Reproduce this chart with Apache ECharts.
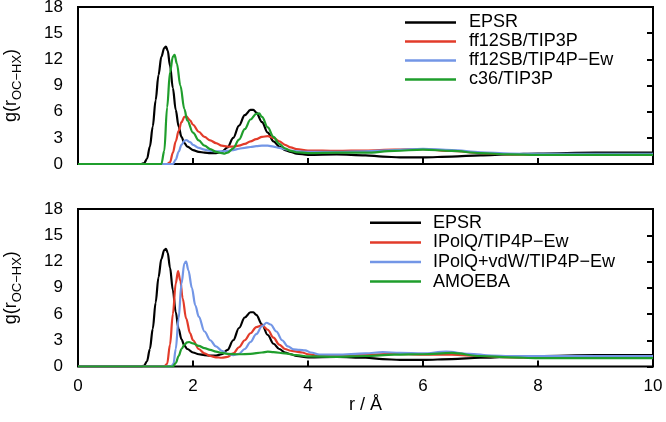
<!DOCTYPE html>
<html><head><meta charset="utf-8">
<script src="https://cdn.jsdelivr.net/npm/echarts@6/dist/echarts.min.js"></script>
<style>html,body{margin:0;padding:0;background:#fff}#c{width:666px;height:422px}</style>
</head><body><div id="c"></div>
<script>
// x ticks / y ticks
var xTicks = [0, 2, 4, 6, 8, 10];
var yTicks = [0, 3, 6, 9, 12, 15, 18];

// EPSR (both panels)
var epsrR = [0, 1.0, 1.1, 1.15, 1.2, 1.25, 1.3, 1.35, 1.4, 1.45, 1.5, 1.53, 1.56, 1.6, 1.65, 1.7, 1.75, 1.8, 1.85, 1.9, 2.0, 2.1, 2.2, 2.3, 2.4, 2.5, 2.6, 2.7, 2.8, 2.9, 3.0, 3.05, 3.1, 3.2, 3.3, 3.4, 3.5, 3.6, 3.7, 3.8, 4.0, 4.5, 5.0, 5.3, 5.6, 6.0, 6.5, 7.0, 7.5, 8.0, 9.0, 10];
var epsrG = [0, 0, 0, 0.1, 0.6, 2.0, 4.3, 7.3, 10.2, 12.3, 13.3, 13.45, 13.0, 11.3, 8.7, 6.2, 4.3, 3.1, 2.4, 2.0, 1.6, 1.4, 1.3, 1.25, 1.25, 1.4, 1.9, 3.0, 4.4, 5.6, 6.2, 6.2, 5.9, 4.8, 3.6, 2.6, 2.0, 1.6, 1.4, 1.2, 1.05, 1.1, 1.0, 0.85, 0.75, 0.75, 0.85, 1.0, 1.1, 1.2, 1.3, 1.3];

// top panel
var ffTip3pR = [0, 1.55, 1.6, 1.65, 1.7, 1.75, 1.8, 1.85, 1.88, 1.95, 2.0, 2.1, 2.2, 2.3, 2.4, 2.5, 2.6, 2.7, 2.8, 2.9, 3.0, 3.1, 3.2, 3.3, 3.4, 3.5, 3.6, 3.7, 3.8, 4.0, 4.5, 5.0, 5.5, 6.0, 6.5, 7.0, 7.5, 8.0, 10];
var ffTip3pG = [0, 0, 0.2, 1.3, 2.6, 3.8, 4.8, 5.4, 5.45, 5.0, 4.5, 3.7, 3.1, 2.7, 2.4, 2.1, 2.0, 2.0, 2.1, 2.3, 2.6, 2.85, 3.1, 3.2, 3.0, 2.6, 2.2, 1.9, 1.7, 1.55, 1.5, 1.55, 1.65, 1.7, 1.5, 1.25, 1.1, 1.05, 1.05];

var ffTip4pR = [0, 1.65, 1.7, 1.75, 1.8, 1.85, 1.88, 1.95, 2.0, 2.1, 2.2, 2.3, 2.4, 2.5, 2.6, 2.7, 2.8, 2.9, 3.0, 3.1, 3.2, 3.3, 3.4, 3.5, 3.6, 3.7, 3.8, 4.0, 4.5, 5.0, 5.5, 6.0, 6.5, 7.0, 7.5, 8.0, 10];
var ffTip4pG = [0, 0, 0.5, 1.4, 2.2, 2.65, 2.75, 2.5, 2.2, 1.85, 1.65, 1.5, 1.45, 1.45, 1.5, 1.6, 1.75, 1.85, 1.95, 2.05, 2.1, 2.1, 2.0, 1.85, 1.7, 1.55, 1.45, 1.4, 1.4, 1.45, 1.6, 1.75, 1.6, 1.35, 1.2, 1.15, 1.15];

var c36R = [0, 1.45, 1.5, 1.55, 1.6, 1.65, 1.68, 1.72, 1.78, 1.85, 1.9, 2.0, 2.1, 2.2, 2.3, 2.4, 2.5, 2.55, 2.6, 2.7, 2.8, 2.9, 3.0, 3.1, 3.15, 3.2, 3.3, 3.4, 3.5, 3.6, 3.7, 3.8, 4.0, 4.5, 5.0, 5.5, 6.0, 6.5, 7.0, 7.5, 8.0, 10];
var c36G = [0, 0, 1.5, 6.5, 10.5, 12.3, 12.5, 11.5, 9.0, 6.3, 5.0, 3.6, 2.7, 2.1, 1.7, 1.4, 1.25, 1.2, 1.3, 1.8, 2.8, 4.0, 5.1, 5.75, 5.8, 5.4, 4.2, 3.1, 2.3, 1.8, 1.5, 1.35, 1.25, 1.3, 1.3, 1.5, 1.65, 1.5, 1.25, 1.1, 1.05, 1.05];

// bottom panel
var ipolqR = [0, 1.5, 1.55, 1.6, 1.65, 1.7, 1.74, 1.78, 1.82, 1.88, 1.95, 2.0, 2.1, 2.2, 2.3, 2.4, 2.5, 2.6, 2.7, 2.8, 2.9, 3.0, 3.1, 3.2, 3.3, 3.4, 3.5, 3.6, 3.7, 3.8, 3.9, 4.0, 4.2, 4.5, 5.0, 5.5, 6.0, 6.5, 7.0, 7.5, 8.0, 10];
var ipolqG = [0, 0, 0.3, 2.5, 6.0, 9.5, 10.9, 9.8, 7.8, 5.5, 3.8, 3.0, 2.0, 1.5, 1.2, 1.05, 1.0, 1.1, 1.5, 2.2, 3.0, 3.8, 4.5, 4.7, 4.2, 3.3, 2.5, 2.0, 1.8, 1.7, 1.6, 1.4, 1.2, 1.25, 1.35, 1.45, 1.35, 1.35, 1.2, 1.05, 1.0, 1.0];

var ipolqVdwR = [0, 1.62, 1.66, 1.7, 1.75, 1.8, 1.85, 1.88, 1.92, 1.98, 2.04, 2.1, 2.2, 2.3, 2.4, 2.5, 2.6, 2.7, 2.8, 2.9, 3.0, 3.1, 3.2, 3.28, 3.35, 3.45, 3.55, 3.65, 3.75, 3.85, 3.95, 4.05, 4.2, 4.5, 5.0, 5.3, 5.6, 6.0, 6.4, 6.8, 7.2, 7.5, 8.0, 10];
var ipolqVdwG = [0, 0, 0.3, 2.0, 5.5, 9.5, 11.8, 12.0, 11.0, 9.0, 7.0, 5.7, 4.0, 3.0, 2.3, 1.8, 1.45, 1.3, 1.45, 2.0, 2.8, 3.7, 4.6, 5.0, 4.8, 4.0, 3.0, 2.3, 1.95, 1.9, 1.85, 1.6, 1.35, 1.35, 1.5, 1.65, 1.55, 1.5, 1.7, 1.45, 1.25, 1.2, 1.2, 1.2];

var amoebaR = [0, 1.65, 1.7, 1.75, 1.8, 1.85, 1.9, 1.93, 2.0, 2.1, 2.2, 2.3, 2.4, 2.5, 2.6, 2.8, 3.0, 3.2, 3.3, 3.4, 3.6, 3.8, 4.0, 4.5, 5.0, 5.5, 6.0, 6.5, 7.0, 7.5, 8.0, 10];
var amoebaG = [0, 0, 0.4, 1.2, 2.0, 2.5, 2.75, 2.8, 2.65, 2.35, 2.1, 1.9, 1.7, 1.55, 1.45, 1.4, 1.45, 1.6, 1.7, 1.65, 1.5, 1.3, 1.15, 1.1, 1.2, 1.35, 1.4, 1.55, 1.2, 1.05, 0.95, 0.95];

var namesTop = ['EPSR', 'ff12SB/TIP3P', 'ff12SB/TIP4P\u2212Ew', 'c36/TIP3P'];
var namesBot = ['EPSR', 'IPolQ/TIP4P\u2212Ew', 'IPolQ+vdW/TIP4P\u2212Ew', 'AMOEBA'];

var C_BLACK = '#000000', C_RED = '#e23b2a', C_BLUE = '#7396e6', C_GREEN = '#1f9e2c';

function pairs(r, g) { return r.map(function (v, i) { return [v, g[i]]; }); }

var FONT = '"Liberation Sans", Arial, Helvetica, sans-serif';

function xAxisDef(gi, showLabels) {
  return {
    type: 'value', gridIndex: gi, min: 0, max: 10, interval: 2, position: 'bottom',
    axisLine: { show: false },
    axisTick: { show: true, inside: true, length: 6, lineStyle: { color: '#000', width: 2 } },
    axisLabel: { show: showLabels, color: '#000', fontSize: 17, fontFamily: FONT, margin: 11 },
    splitLine: { show: false },
    name: showLabels ? 'r / \u00c5' : '', nameLocation: 'middle', nameGap: 30,
    nameTextStyle: { color: '#000', fontSize: 18, fontFamily: FONT }
  };
}
function yAxisLeft(gi) {
  return {
    type: 'value', gridIndex: gi, min: 0, max: 18, interval: 3, position: 'left',
    axisLine: { show: false }, axisTick: { show: false },
    axisLabel: { color: '#000', fontSize: 17, fontFamily: FONT, margin: 15 },
    splitLine: { show: false },
    name: '{a|g(r}{b|OC\u2212HX}{a|)}', nameLocation: 'middle', nameRotate: 90, nameGap: 54,
    nameTextStyle: {
      rich: {
        a: { fontSize: 18, fontFamily: FONT, color: '#000', lineHeight: 26 },
        b: { fontSize: 13, fontFamily: FONT, color: '#000', lineHeight: 13, verticalAlign: 'bottom' }
      }
    }
  };
}
function yAxisRight(gi) {
  return {
    type: 'value', gridIndex: gi, min: 0, max: 18, interval: 3, position: 'right',
    axisLine: { show: false },
    axisTick: { show: true, inside: true, length: 6, lineStyle: { color: '#000', width: 2 } },
    axisLabel: { show: false }, splitLine: { show: false }
  };
}
function line(name, data, color, xi, yi) {
  return {
    type: 'line', name: name, data: data, xAxisIndex: xi, yAxisIndex: yi,
    showSymbol: false, symbol: 'none', smooth: 0.35, smoothMonotone: 'x',
    lineStyle: { color: color, width: 2.2 }, itemStyle: { color: color },
    z: 3, animation: false
  };
}

var chart = echarts.init(document.getElementById('c'), null, { renderer: 'canvas' });
chart.setOption({
  animation: false,
  backgroundColor: '#fff',
  grid: [
    { left: 78, right: 13, top: 7, height: 157, containLabel: false, outerBoundsMode: 'none', show: true, borderColor: '#000', borderWidth: 2, backgroundColor: 'transparent' },
    { left: 78, right: 13, top: 209, height: 157.5, containLabel: false, outerBoundsMode: 'none', show: true, borderColor: '#000', borderWidth: 2, backgroundColor: 'transparent' }
  ],
  xAxis: [xAxisDef(0, false), xAxisDef(1, true)],
  yAxis: [yAxisLeft(0), yAxisRight(0), yAxisLeft(1), yAxisRight(1)],
  legend: [
    { data: namesTop, orient: 'vertical', left: 405, top: 13, padding: 0, itemWidth: 51, itemHeight: 2.5, itemGap: 0, icon: 'rect',
      textStyle: { fontSize: 18, fontFamily: FONT, color: '#000', lineHeight: 19, padding: [0, 0, 0, 8] }, selectedMode: false },
    { data: namesBot, orient: 'vertical', left: 370, top: 213, padding: 0, itemWidth: 51, itemHeight: 2.5, itemGap: 0, icon: 'rect',
      textStyle: { fontSize: 18, fontFamily: FONT, color: '#000', lineHeight: 19.6, padding: [0, 0, 0, 7] }, selectedMode: false }
  ],
  series: [
    line('EPSR', pairs(epsrR, epsrG), C_BLACK, 0, 0),
    line(namesTop[1], pairs(ffTip3pR, ffTip3pG), C_RED, 0, 0),
    line(namesTop[2], pairs(ffTip4pR, ffTip4pG), C_BLUE, 0, 0),
    line(namesTop[3], pairs(c36R, c36G), C_GREEN, 0, 0),
    line('EPSR', pairs(epsrR, epsrG), C_BLACK, 1, 2),
    line(namesBot[1], pairs(ipolqR, ipolqG), C_RED, 1, 2),
    line(namesBot[2], pairs(ipolqVdwR, ipolqVdwG), C_BLUE, 1, 2),
    line(namesBot[3], pairs(amoebaR, amoebaG), C_GREEN, 1, 2)
  ]
});
</script></body></html>
